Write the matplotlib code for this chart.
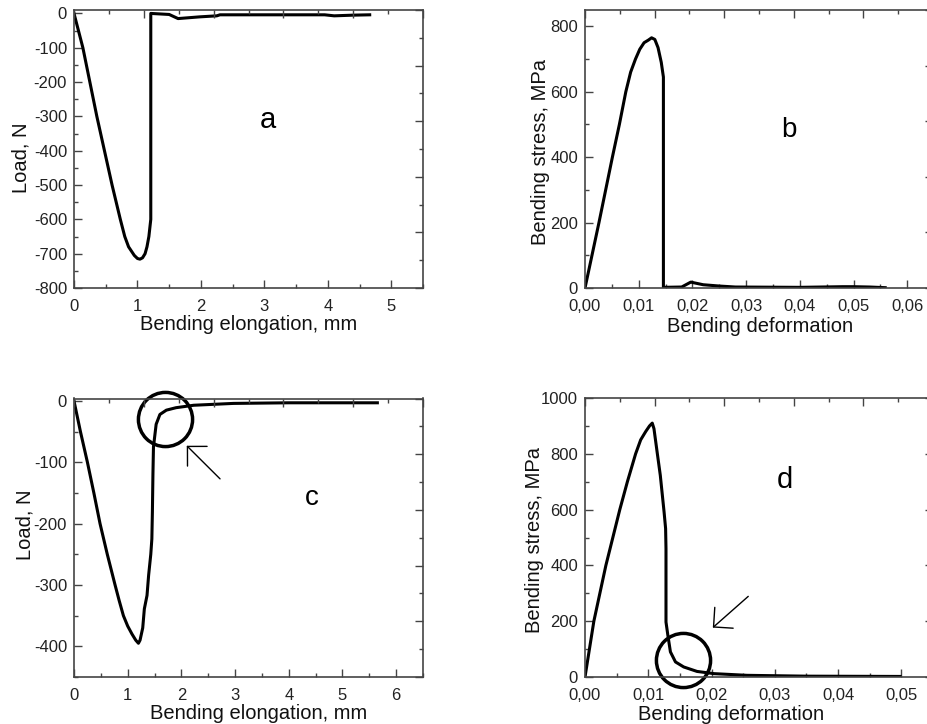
import numpy as np
import matplotlib.pyplot as plt
from matplotlib.ticker import MultipleLocator, FuncFormatter, NullFormatter

plt.rcParams['font.family'] = ['Liberation Sans', 'DejaVu Sans']
plt.rcParams['axes.unicode_minus'] = False

# a: load vs elongation
xa = [0, 0.14, 0.25, 0.36, 0.48, 0.60, 0.73, 0.80, 0.86, 0.95, 1.00, 1.04, 1.08,
      1.12, 1.15, 1.18, 1.21, 1.21, 1.50, 1.64, 1.98, 2.25, 2.30, 3.00, 3.95,
      4.10, 4.40, 4.66]
ya = [0, -100, -200, -300, -400, -500, -600, -650, -680, -705, -714, -716, -712,
      -700, -680, -650, -600, 0, -3, -15, -10, -7, -4, -4, -4, -7, -5, -4]

# b: stress vs deformation
xb = [0, 0.0013, 0.0026, 0.0051, 0.0064, 0.0076, 0.0085, 0.0094, 0.0102, 0.0110,
      0.0118, 0.0124, 0.0130, 0.0136, 0.0142, 0.0146, 0.0146, 0.018, 0.0197,
      0.022, 0.025, 0.028, 0.040, 0.048, 0.050, 0.053, 0.0559]
yb = [0, 100, 200, 400, 500, 600, 660, 700, 730, 750, 758, 765, 760, 735, 690,
      645, 2, 3, 18, 10, 6, 3, 2, 4, 4, 3, 1]

# c: load vs elongation
xc = [0, 0.12, 0.25, 0.37, 0.485, 0.62, 0.765, 0.84, 0.92, 1.00, 1.08, 1.15, 1.20,
      1.23, 1.28, 1.31, 1.36, 1.39, 1.43, 1.45, 1.46, 1.47, 1.48, 1.53, 1.60,
      1.72, 1.90, 2.23, 2.97, 4.0, 5.0, 5.65]
yc = [0, -50, -100, -150, -200, -250, -300, -325, -350, -367, -380, -390, -395,
      -390, -370, -339, -317, -284, -250, -225, -181, -120, -75, -38, -22, -15,
      -11, -7, -4, -3, -3, -3]

# d: stress vs deformation
xd = [0, 0.0014, 0.0033, 0.0044, 0.0055, 0.0067, 0.0080, 0.0088, 0.0096, 0.0102,
      0.01063, 0.0109, 0.0114, 0.0119, 0.0125, 0.01274, 0.0128, 0.0128, 0.0131,
      0.0135, 0.0143, 0.0156, 0.0177, 0.0204, 0.0256, 0.035, 0.0498]
yd = [0, 200, 400, 500, 600, 700, 800, 850, 880, 900, 910, 890, 806, 723, 591,
      532, 460, 197, 149, 90, 54, 36, 20, 12, 6, 3, 2]

W, H = 928, 724
fig = plt.figure(figsize=(W / 100, H / 100), dpi=100)

spine_col = '#444444'


def panel(box, x, y, xlim, ylim, xmaj, ymaj, xlabel, ylabel, xlab_pos, ylab_pos, comma=False):
    l, t, r, b = box
    pos = [l / W, 1 - b / H, (r - l) / W, (b - t) / H]
    ax = fig.add_axes(pos)
    ax.plot(x, y, 'k-', lw=2.2, solid_joinstyle='round')
    ax.set_xlim(xlim)
    ax.set_ylim(ylim)
    ax.xaxis.set_major_locator(MultipleLocator(xmaj))
    ax.xaxis.set_minor_locator(MultipleLocator(xmaj / 2))
    ax.yaxis.set_major_locator(MultipleLocator(ymaj))
    ax.yaxis.set_minor_locator(MultipleLocator(ymaj / 2))
    if comma:
        ax.xaxis.set_major_formatter(FuncFormatter(lambda v, p: ('%.2f' % v).replace('.', ',')))
    else:
        ax.xaxis.set_major_formatter(FuncFormatter(lambda v, p: '%d' % round(v)))
    ax.yaxis.set_major_formatter(FuncFormatter(lambda v, p: '%d' % round(v)))
    ax.tick_params(which='both', direction='in', top=False, right=False,
                   colors=spine_col, labelcolor='#222222', labelsize=12, width=1)
    ax.tick_params(which='major', length=6)
    ax.tick_params(which='minor', length=3)
    ax.tick_params(axis='x', pad=8)
    ax.tick_params(axis='y', pad=5)
    for s in ax.spines.values():
        s.set_color(spine_col)
        s.set_linewidth(1.2)
    ax.set_xlabel(xlabel, fontsize=14.5, color='#111111')
    ax.set_ylabel(ylabel, fontsize=14.5, color='#111111')
    ax.xaxis.set_label_coords(*xlab_pos)
    ax.yaxis.set_label_coords(*ylab_pos)
    ax.xaxis.label.set_va('center')
    ax.yaxis.label.set_va('center')

    # top/right axes carry their own 0-10 scale, no labels
    ax2 = fig.add_axes(pos, frameon=False)
    ax2.set_xlim(0, 10)
    ax2.set_ylim(0, 10)
    ax2.xaxis.tick_top()
    ax2.yaxis.tick_right()
    for a in (ax2.xaxis, ax2.yaxis):
        a.set_major_locator(MultipleLocator(2))
        a.set_minor_locator(MultipleLocator(1))
        a.set_major_formatter(NullFormatter())
    ax2.tick_params(which='both', direction='in', colors=spine_col, width=1)
    ax2.tick_params(which='major', length=6)
    ax2.tick_params(which='minor', length=3)
    ax2.patch.set_visible(False)
    return ax


ax_a = panel((74, 10, 423, 288), xa, ya, (0, 5.5), (-800, 10), 1, 100,
             'Bending elongation, mm', 'Load, N', (0.5, -0.13), (-0.152, 0.468))
ax_a.text(3.05, -311, 'a', fontsize=21, ha='center', va='center')

ax_b = panel((585, 10, 933, 288), xb, yb, (0, 0.0648), (0, 850), 0.01, 200,
             'Bending deformation', 'Bending stress, MPa', (0.503, -0.14), (-0.129, 0.489),
             comma=True)
ax_b.text(0.038, 483, 'b', fontsize=20, ha='center', va='center')

ax_c = panel((74, 398.5, 423, 677), xc, yc, (0, 6.5), (-450, 4), 1, 100,
             'Bending elongation, mm', 'Load, N', (0.53, -0.13), (-0.14, 0.546))
ax_c.text(4.42, -158, 'c', fontsize=20, ha='center', va='center')
ax_c.plot([1.70], [-29.4], 'o', ms=39, mfc='none', mec='k', mew=2.5, clip_on=False)
ax_c.annotate('', xy=(2.10, -73), xytext=(2.72, -127),
              arrowprops=dict(arrowstyle='->, head_length=1.0, head_width=1.0',
                              mutation_scale=10, lw=1, color='k', shrinkA=0, shrinkB=0))

ax_d = panel((585, 398, 933, 677), xd, yd, (0, 0.055), (0, 1000), 0.01, 200,
             'Bending deformation', 'Bending stress, MPa', (0.42, -0.133), (-0.144, 0.491),
             comma=True)
ax_d.text(0.0316, 705, 'd', fontsize=21, ha='center', va='center')
ax_d.plot([0.01548], [62], 'o', ms=39, mfc='none', mec='k', mew=2.5, clip_on=False)
ax_d.annotate('', xy=(0.0202, 177), xytext=(0.0258, 289),
              arrowprops=dict(arrowstyle='->, head_length=1.0, head_width=1.0',
                              mutation_scale=10, lw=1, color='k', shrinkA=0, shrinkB=0))

fig.savefig('out.png', dpi=100)
